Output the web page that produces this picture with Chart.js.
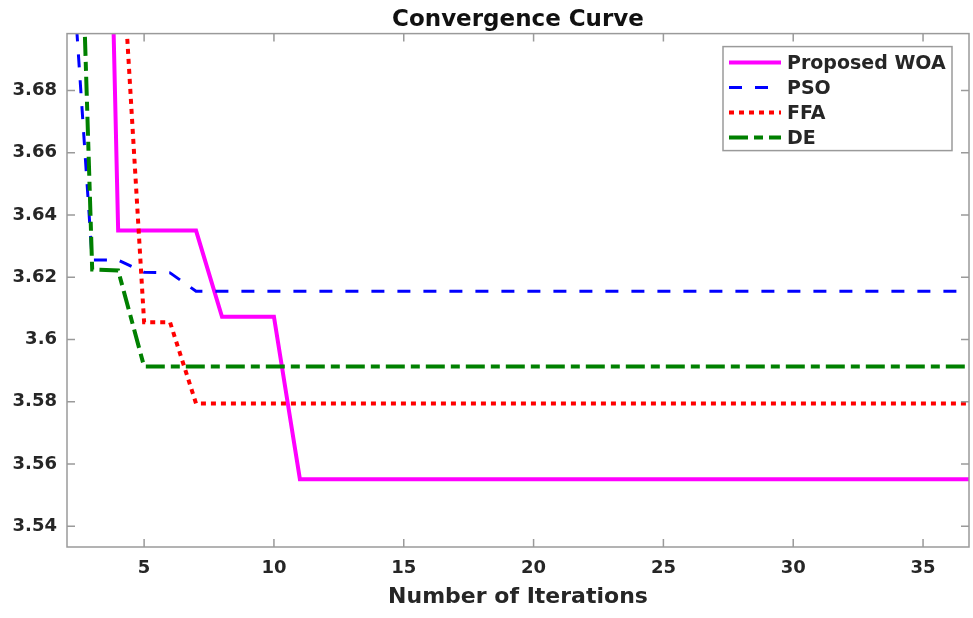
<!DOCTYPE html>
<html>
<head>
<meta charset="utf-8">
<script src="https://cdn.jsdelivr.net/npm/chart.js@4.4.1/dist/chart.umd.min.js"></script>
<style>
  body { margin: 0; background: #fff; }
  canvas { display: block; }
</style>
</head>
<body>
<canvas id="convChart" width="973" height="618"></canvas>
<script>
// ========== DATA ==========
const iterations = [1, 2, 3, 4, 5, 6, 7, 8, 9, 10, 11, 12, 13, 14, 15, 16, 17, 18, 19, 20,
    21, 22, 23, 24, 25, 26, 27, 28, 29, 30, 31, 32, 33, 34, 35, 36, 37];

const woaValues = [4.30, 4.15, 4.00, 3.6350, 3.6350, 3.6350, 3.6350, 3.6073, 3.6073, 3.6073,
    3.5551, 3.5551, 3.5551, 3.5551, 3.5551, 3.5551, 3.5551, 3.5551, 3.5551, 3.5551,
    3.5551, 3.5551, 3.5551, 3.5551, 3.5551, 3.5551, 3.5551, 3.5551, 3.5551, 3.5551,
    3.5551, 3.5551, 3.5551, 3.5551, 3.5551, 3.5551, 3.5551];

const psoValues = [3.80, 3.750, 3.6255, 3.6255, 3.6216, 3.6214, 3.6155, 3.6155, 3.6155, 3.6155,
    3.6155, 3.6155, 3.6155, 3.6155, 3.6155, 3.6155, 3.6155, 3.6155, 3.6155, 3.6155,
    3.6155, 3.6155, 3.6155, 3.6155, 3.6155, 3.6155, 3.6155, 3.6155, 3.6155, 3.6155,
    3.6155, 3.6155, 3.6155, 3.6155, 3.6155, 3.6155, 3.6155];

const ffaValues = [3.85, 3.80, 3.77, 3.746, 3.6055, 3.6055, 3.5794, 3.5794, 3.5794, 3.5794,
    3.5794, 3.5794, 3.5794, 3.5794, 3.5794, 3.5794, 3.5794, 3.5794, 3.5794, 3.5794,
    3.5794, 3.5794, 3.5794, 3.5794, 3.5794, 3.5794, 3.5794, 3.5794, 3.5794, 3.5794,
    3.5794, 3.5794, 3.5794, 3.5794, 3.5794, 3.5794, 3.5794];

const deValues = [4.00, 3.89, 3.6225, 3.6222, 3.5913, 3.5913, 3.5913, 3.5913, 3.5913, 3.5913,
    3.5913, 3.5913, 3.5913, 3.5913, 3.5913, 3.5913, 3.5913, 3.5913, 3.5913, 3.5913,
    3.5913, 3.5913, 3.5913, 3.5913, 3.5913, 3.5913, 3.5913, 3.5913, 3.5913, 3.5913,
    3.5913, 3.5913, 3.5913, 3.5913, 3.5913, 3.5913, 3.5913];

const seriesLabels = ['Proposed WOA', 'PSO', 'FFA', 'DE'];

const xTickValues = [5, 10, 15, 20, 25, 30, 35];
const yTickValues = [3.54, 3.56, 3.58, 3.6, 3.62, 3.64, 3.66, 3.68];
const yTickLabels = ['3.54', '3.56', '3.58', '3.6', '3.62', '3.64', '3.66', '3.68'];

// ========== STYLE ==========
const axisColor = '#9a9a9a';
const textColor = '#262626';
const fontFamily = '"DejaVu Sans", Arial, sans-serif';
const tickLen = 8;

function toPoints(values) {
    return iterations.map((it, i) => ({ x: it, y: values[i] }));
}

// ========== FRAME (box + inward ticks) ==========
const framePlugin = {
    id: 'frame',
    afterDatasetsDraw(chart) {
        const { ctx, chartArea: a, scales: { x, y } } = chart;
        ctx.save();
        ctx.strokeStyle = axisColor;
        ctx.lineWidth = 1.5;
        ctx.setLineDash([]);
        ctx.strokeRect(a.left, a.top, a.right - a.left, a.bottom - a.top);
        ctx.beginPath();
        x.ticks.forEach(t => {
            const px = x.getPixelForValue(t.value);
            ctx.moveTo(px, a.bottom); ctx.lineTo(px, a.bottom - tickLen);
            ctx.moveTo(px, a.top); ctx.lineTo(px, a.top + tickLen);
        });
        y.ticks.forEach(t => {
            const py = y.getPixelForValue(t.value);
            ctx.moveTo(a.left, py); ctx.lineTo(a.left + tickLen, py);
            ctx.moveTo(a.right, py); ctx.lineTo(a.right - tickLen, py);
        });
        ctx.stroke();
        ctx.restore();
    }
};

// ========== LEGEND (boxed, top right inside plot) ==========
const legendPlugin = {
    id: 'boxLegend',
    afterDraw(chart) {
        const { ctx, chartArea: a } = chart;
        const x0 = a.right - 246, y0 = a.top + 13, w = 229, h = 104;
        ctx.save();
        ctx.fillStyle = '#fff';
        ctx.fillRect(x0, y0, w, h);
        ctx.strokeStyle = axisColor;
        ctx.lineWidth = 1.5;
        ctx.strokeRect(x0, y0, w, h);
        chart.data.datasets.forEach((ds, i) => {
            const cy = y0 + 16 + i * 25;
            ctx.beginPath();
            ctx.setLineDash(ds.borderDash || []);
            ctx.lineWidth = ds.borderWidth;
            ctx.strokeStyle = ds.borderColor;
            ctx.moveTo(x0 + 6, cy);
            ctx.lineTo(x0 + 58, cy);
            ctx.stroke();
            ctx.setLineDash([]);
            ctx.fillStyle = textColor;
            ctx.font = 'bold 19px ' + fontFamily;
            ctx.textBaseline = 'middle';
            ctx.fillText(ds.label, x0 + 64, cy + 1);
        });
        ctx.restore();
    }
};

// ========== CHART ==========
new Chart(document.getElementById('convChart').getContext('2d'), {
    type: 'line',
    data: {
        datasets: [
            { label: seriesLabels[0], data: toPoints(woaValues), borderColor: '#ff00ff', borderWidth: 4, order: 4 },
            { label: seriesLabels[1], data: toPoints(psoValues), borderColor: '#0000ff', borderWidth: 3, borderDash: [13, 13], order: 3 },
            { label: seriesLabels[2], data: toPoints(ffaValues), borderColor: '#ff0000', borderWidth: 4, borderDash: [5, 5], order: 2 },
            { label: seriesLabels[3], data: toPoints(deValues), borderColor: '#008000', borderWidth: 4, borderDash: [19, 6, 9, 6], order: 1 }
        ].map(ds => Object.assign(ds, { pointRadius: 0, tension: 0, fill: false, clip: 0 }))
    },
    options: {
        responsive: false,
        animation: false,
        devicePixelRatio: 1,
        layout: { padding: { left: 0, right: 4, top: 0, bottom: 0 } },
        plugins: {
            legend: { display: false },
            tooltip: { enabled: false },
            title: {
                display: true,
                fullSize: false,
                text: 'Convergence Curve',
                color: '#111',
                font: { family: fontFamily, size: 23, weight: 'bold' },
                padding: { top: 6, bottom: 0 }
            }
        },
        scales: {
            x: {
                type: 'linear',
                min: 2.03,
                max: 36.77,
                grid: { display: false, drawTicks: false },
                border: { display: false },
                afterBuildTicks: s => { s.ticks = xTickValues.map(v => ({ value: v })); },
                afterFit: s => { s.height = 71; },
                ticks: {
                    autoSkip: false,
                    maxRotation: 0,
                    padding: 11,
                    color: textColor,
                    font: { family: fontFamily, size: 18, weight: 'bold' },
                    callback: v => String(v)
                },
                title: {
                    display: true,
                    text: 'Number of Iterations',
                    color: textColor,
                    font: { family: fontFamily, size: 22, weight: 'bold' },
                    padding: { top: 0, bottom: 8 }
                }
            },
            y: {
                type: 'linear',
                min: 3.5333,
                max: 3.6983,
                grid: { display: false, drawTicks: false },
                border: { display: false },
                afterBuildTicks: s => { s.ticks = yTickValues.map(v => ({ value: v })); },
                afterFit: s => { s.width = 67; },
                ticks: {
                    autoSkip: false,
                    padding: 10,
                    color: textColor,
                    font: { family: fontFamily, size: 18, weight: 'bold' },
                    callback: (v, i) => yTickLabels[i]
                }
            }
        }
    },
    plugins: [framePlugin, legendPlugin]
});
</script>
</body>
</html>
